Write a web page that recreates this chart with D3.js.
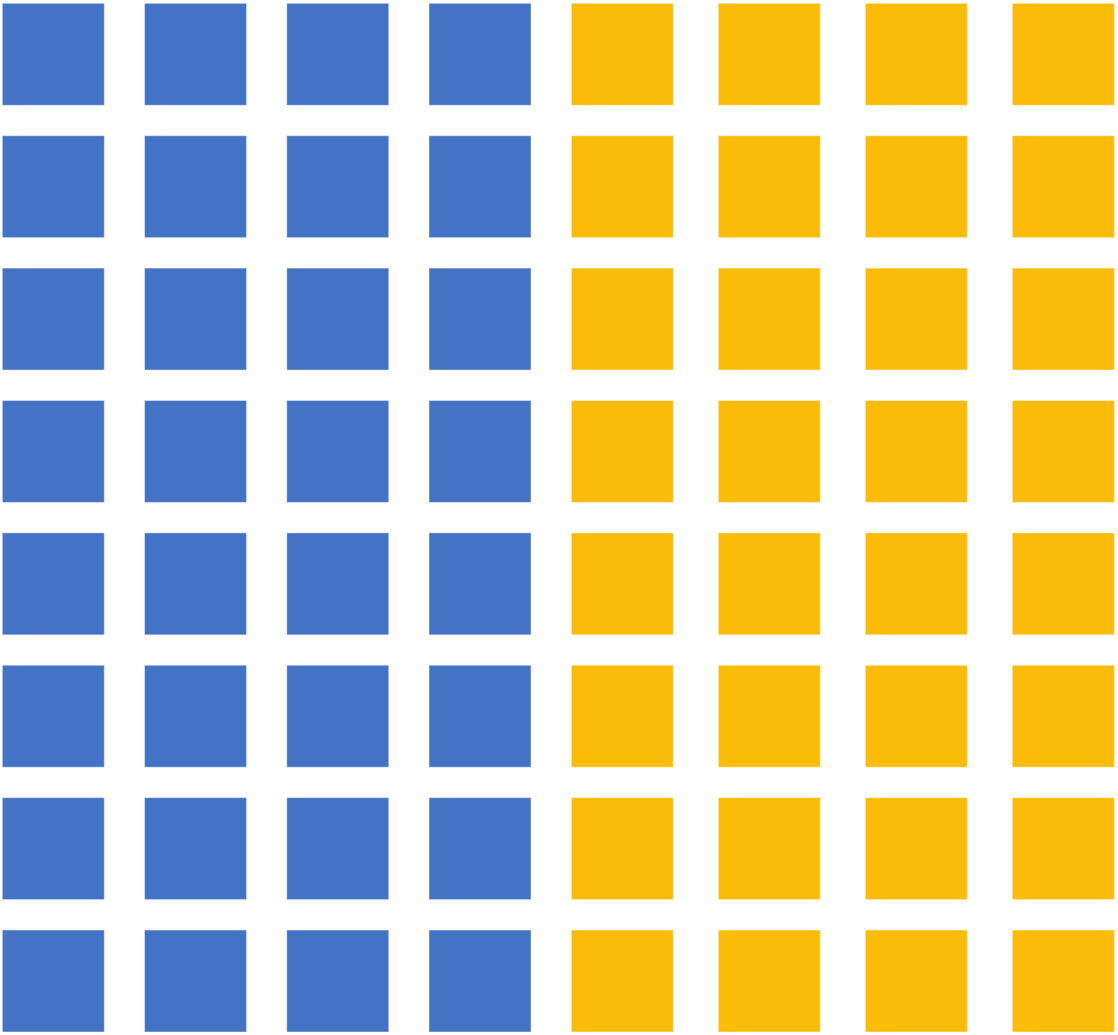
<!DOCTYPE html>
<html>
<head>
<meta charset="utf-8">
<script src="https://cdn.jsdelivr.net/npm/d3@7"></script>
<style>
  html, body { margin: 0; padding: 0; background: #ffffff; }
  svg { display: block; }
</style>
</head>
<body>
<svg id="chart" width="1118" height="1035"></svg>
<script>
// Waffle data: number of cells per category, filled column by column
const categories = ["A", "B"];
const counts = [32, 32];
const colors = ["#4472C4", "#FBBC09"];
const rows = [0, 1, 2, 3, 4, 5, 6, 7];

const svg = d3.select("#chart");

// each category block gets its own horizontal extent (matches reference spacing)
const blockRanges = [[2.3, 531], [571.3, 1114.3]];
const y = d3.scaleBand().domain(rows).range([3.3, 1032]).paddingInner(0.2297);
const color = d3.scaleOrdinal().domain(categories).range(colors);

const cells = [];
const xScales = {};
categories.forEach((c, ci) => {
  const nCols = Math.ceil(counts[ci] / rows.length);
  const cols = d3.range(nCols);
  const r = blockRanges[ci];
  const bw = 102;
  const pad = (r[1] - r[0] - nCols * bw) / (nCols - 1);
  xScales[c] = d3.scaleBand().domain(cols).range(r).paddingInner(pad / (bw + pad)).paddingOuter(0);
  for (let k = 0; k < counts[ci]; k++) {
    cells.push({ cat: c, col: Math.floor(k / rows.length), row: k % rows.length });
  }
});

svg.selectAll("rect.cell")
  .data(cells)
  .join("rect")
  .attr("class", "cell")
  .attr("x", d => xScales[d.cat](d.col))
  .attr("y", d => y(d.row))
  .attr("width", d => xScales[d.cat].bandwidth())
  .attr("height", y.bandwidth())
  .attr("fill", d => color(d.cat))
  .attr("stroke", "#ffffff")
  .attr("stroke-opacity", 0.45)
  .attr("stroke-width", 1);
</script>
</body>
</html>
